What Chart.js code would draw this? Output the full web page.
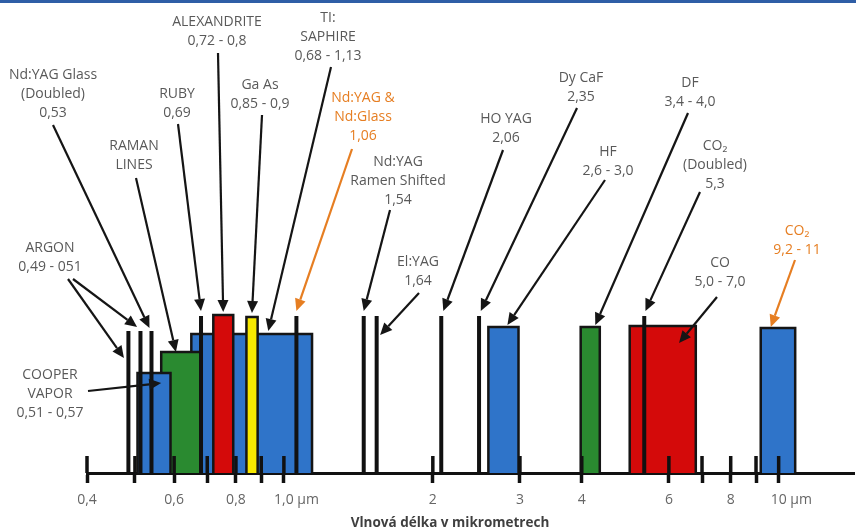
<!DOCTYPE html>
<html>
<head>
<meta charset="utf-8">
<script src="https://cdn.jsdelivr.net/npm/chart.js@4.4.1/dist/chart.umd.min.js"></script>
<style>
  body { margin: 0; background: #fff; }
  #wrap { position: relative; width: 856px; height: 528px; }
  #topline { position: absolute; left: 0; top: 0; width: 856px; height: 3px; background: #2f5ea6; }
</style>
</head>
<body>
<div id="wrap"><canvas id="chart"></canvas><div id="topline"></div></div>
<script>
// laser bands in µm, listed back to front
const bandNames = ['TI:SAPHIRE', 'RAMAN LINES', 'COOPER VAPOR', 'ALEXANDRITE', 'Ga As', 'HF', 'DF', 'CO', 'CO2']
const bandFrom = [0.65, 0.565, 0.506, 0.72, 0.84, 2.59, 3.98, 5.0, 9.2]
const bandTo = [1.14, 0.68, 0.59, 0.79, 0.885, 2.98, 4.35, 6.8, 10.8]
const bandHeight = [139, 121, 100, 158, 156, 146, 146, 147, 145]
const bandColors = ['#2f74c9', '#2a8a30', '#2f74c9', '#d40a0a', '#f7e900', '#2f74c9', '#2a8a30', '#d40a0a', '#2f74c9']

// single wavelength lines
const lineNames = ['ARGON 0,49', 'ARGON 0,51', 'Nd:YAG Glass (Doubled)', 'RUBY', 'Nd:YAG & Nd:Glass', 'Nd:YAG Ramen Shifted', 'El:YAG', 'HO YAG', 'Dy CaF', 'CO2 (Doubled)']
const lineAt = [0.485, 0.513, 0.54, 0.68, 1.06, 1.45, 1.54, 2.08, 2.48, 5.35]
const lineHeight = [142, 142, 142, 157, 157, 157, 157, 157, 157, 157]

const tickValues = [0.4, 0.5, 0.6, 0.7, 0.8, 0.9, 1, 2, 3, 4, 6, 7, 8, 9, 10]
const tickLabels = ['0,4', '', '0,6', '', '0,8', '', '1,0 µm', '2', '3', '4', '6', '', '8', '', '10 µm']

const GRAY = '#595959'
const ORANGE = '#e67e22'

// callouts: text block centre (px), arrow start (px), arrow tip (µm, height)
const notes = [
  { text: ['Nd:YAG Glass', '(Doubled)', '0,53'], at: [53, 75], from: [53, 125], to: [0.535, 145] },
  { text: ['RAMAN', 'LINES'], at: [134, 146], from: [136, 178], to: [0.605, 121] },
  { text: ['RUBY', '0,69'], at: [177, 94], from: [178, 124], to: [0.68, 162] },
  { text: ['ALEXANDRITE', '0,72 - 0,8'], at: [217, 22], from: [218, 53], to: [0.754, 161] },
  { text: ['Ga As', '0,85 - 0,9'], at: [260, 85], from: [262, 115], to: [0.862, 160] },
  { text: ['TI:', 'SAPHIRE', '0,68 - 1,13'], at: [328, 18], from: [331, 67], to: [0.93, 142] },
  { text: ['Nd:YAG &', 'Nd:Glass', '1,06'], at: [363, 98], from: [352, 149], to: [1.06, 162], color: ORANGE },
  { text: ['Nd:YAG', 'Ramen Shifted', '1,54'], at: [398, 162], from: [390, 210], to: [1.45, 162] },
  { text: ['ARGON', '0,49 - 051'], at: [50, 248], from: [68, 279], to: [0.475, 115] },
  { text: [], at: [50, 248], from: [73, 279], to: [0.505, 146] },
  { text: ['El:YAG', '1,64'], at: [418, 262], from: [419, 293], to: [1.565, 138] },
  { text: ['COOPER', 'VAPOR', '0,51 - 0,57'], at: [50, 375], from: [88, 391], to: [0.565, 90] },
  { text: ['HO YAG', '2,06'], at: [506, 119], from: [503, 150], to: [2.1, 162] },
  { text: ['Dy CaF', '2,35'], at: [581, 78], from: [577, 108], to: [2.5, 162] },
  { text: ['HF', '2,6 - 3,0'], at: [608, 152], from: [605, 180], to: [2.83, 148] },
  { text: ['DF', '3,4 - 4,0'], at: [690, 83], from: [688, 113], to: [4.26, 148] },
  { text: ['CO₂', '(Doubled)', '5,3'], at: [715, 146], from: [700, 192], to: [5.38, 162] },
  { text: ['CO', '5,0 - 7,0'], at: [720, 263], from: [717, 297], to: [6.29, 130] },
  { text: ['CO₂', '9,2 - 11'], at: [797, 231], from: [795, 260], to: [9.64, 146], color: ORANGE }
]

const datasets = []
bandNames.forEach((name, i) => {
  datasets.push({
    label: name,
    data: [
      { x: bandFrom[i], y: 0 }, { x: bandFrom[i], y: bandHeight[i] },
      { x: bandTo[i], y: bandHeight[i] }, { x: bandTo[i], y: 0 }
    ],
    backgroundColor: bandColors[i],
    borderColor: '#151515',
    borderWidth: 2.5,
    fill: 'origin'
  })
})
lineNames.forEach((name, i) => {
  datasets.push({
    label: name,
    data: [{ x: lineAt[i], y: 0 }, { x: lineAt[i], y: lineHeight[i] }],
    borderColor: '#111',
    borderWidth: 4,
    fill: false
  })
})
datasets.forEach((d, i) => {
  d.order = datasets.length - i
  d.pointRadius = 0
  d.tension = 0
  d.clip = false
})

function drawArrow(ctx, x0, y0, x1, y1, color) {
  const ang = Math.atan2(y1 - y0, x1 - x0)
  const len = 12, half = 5.5
  const bx = x1 - len * Math.cos(ang), by = y1 - len * Math.sin(ang)
  ctx.strokeStyle = color
  ctx.fillStyle = color
  ctx.lineWidth = 2.2
  ctx.beginPath()
  ctx.moveTo(x0, y0)
  ctx.lineTo(bx, by)
  ctx.stroke()
  ctx.beginPath()
  ctx.moveTo(x1, y1)
  ctx.lineTo(bx + half * Math.sin(ang), by - half * Math.cos(ang))
  ctx.lineTo(bx - half * Math.sin(ang), by + half * Math.cos(ang))
  ctx.closePath()
  ctx.fill()
}

const overlay = {
  id: 'overlay',
  afterDraw(chart) {
    const { ctx } = chart
    const x = chart.scales.x, y = chart.scales.y
    const base = y.getPixelForValue(0)
    ctx.save()
    // upper half of each tick mark
    ctx.strokeStyle = '#111'
    ctx.lineWidth = 3.5
    tickValues.forEach(v => {
      const px = x.getPixelForValue(v)
      ctx.beginPath()
      ctx.moveTo(px, base - 17)
      ctx.lineTo(px, base)
      ctx.stroke()
    })
    // tick labels, number centred on its tick
    ctx.font = '14px "Open Sans"'
    ctx.fillStyle = '#666'
    ctx.textBaseline = 'middle'
    ctx.textAlign = 'left'
    tickLabels.forEach((t, i) => {
      if (!t) return
      const num = t.split(' ')[0]
      const px = x.getPixelForValue(tickValues[i])
      ctx.fillText(t, px - ctx.measureText(num).width / 2, base + 27)
    })
    ctx.font = 'bold 13.5px "Open Sans"'
    ctx.fillStyle = '#3f3f3f'
    ctx.textAlign = 'center'
    ctx.fillText('Vlnová délka v mikrometrech', 450, 523)

    // callouts
    ctx.font = '14px "Open Sans", "DejaVu Sans"'
    notes.forEach(n => {
      const color = n.color || GRAY
      ctx.fillStyle = color
      n.text.forEach((line, k) => ctx.fillText(line, n.at[0], n.at[1] + k * 18.8))
      drawArrow(ctx, n.from[0], n.from[1], x.getPixelForValue(n.to[0]), y.getPixelForValue(n.to[1]), n.color ? ORANGE : '#151515')
    })
    ctx.restore()
  }
}

new Chart(document.getElementById('chart'), {
  type: 'line',
  data: { datasets: datasets },
  options: {
    responsive: true,
    maintainAspectRatio: false,
    animation: false,
    layout: { padding: { top: 313, left: 87, right: 2, bottom: 45 } },
    plugins: { legend: { display: false }, tooltip: { enabled: false } },
    scales: {
      x: {
        type: 'logarithmic',
        min: 0.4,
        max: 14.2,
        afterBuildTicks: axis => { axis.ticks = tickValues.map(v => ({ value: v })) },
        ticks: { display: false },
        grid: { display: true, drawOnChartArea: false, drawTicks: true, tickLength: 10, tickWidth: 3.5, tickColor: '#111' },
        border: { display: true, color: '#111', width: 3 }
      },
      y: { display: false, min: 0, max: 160 }
    }
  },
  plugins: [overlay]
})
</script>
</body>
</html>
